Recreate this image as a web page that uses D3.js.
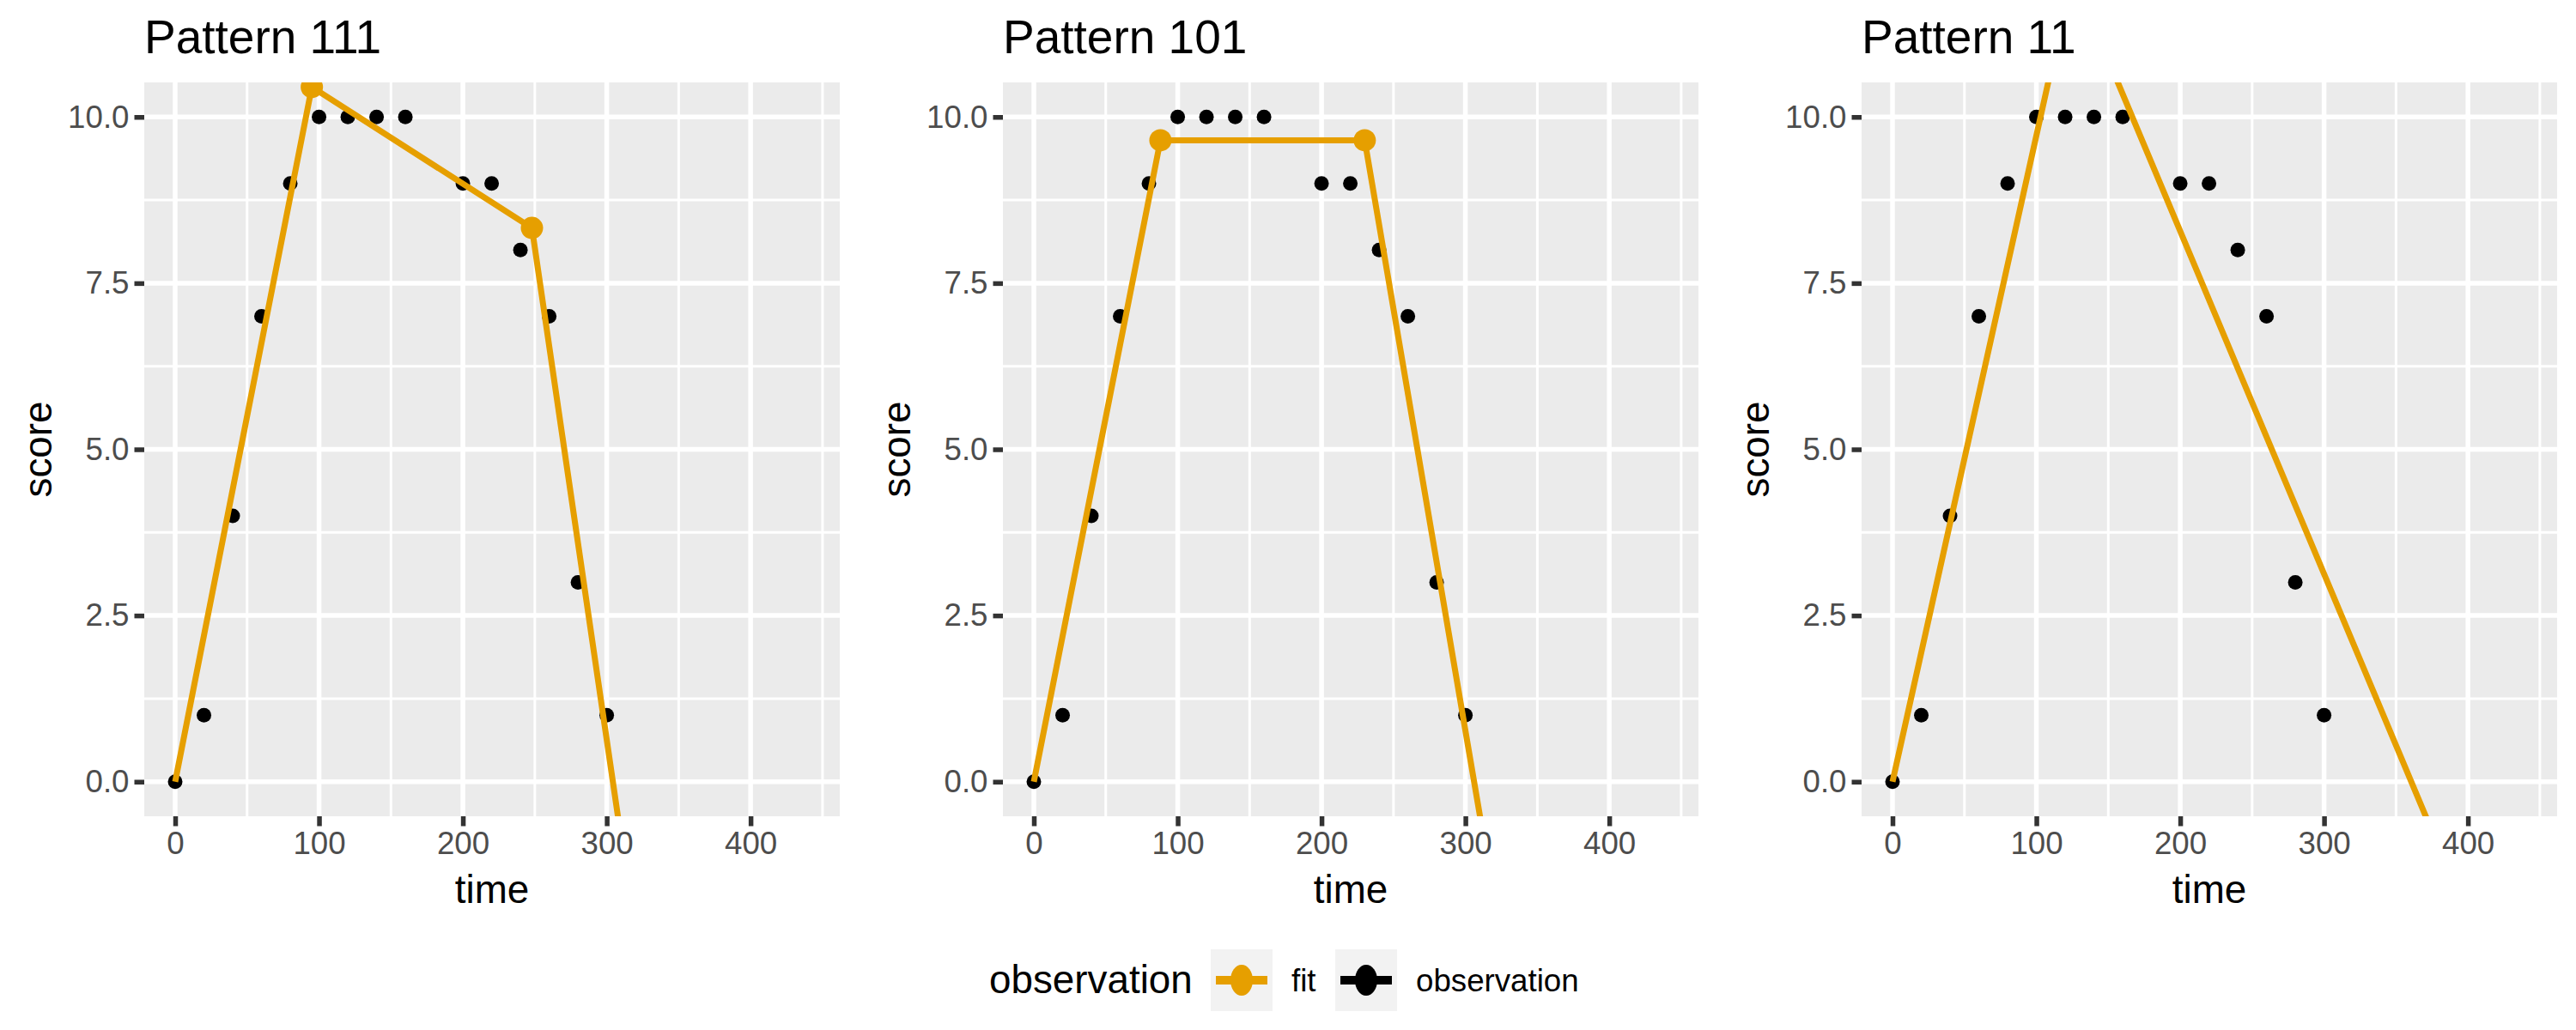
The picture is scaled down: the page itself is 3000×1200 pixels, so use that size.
<!DOCTYPE html>
<html>
<head>
<meta charset="utf-8">
<script src="https://cdn.jsdelivr.net/npm/d3@7"></script>
<style>
  body { margin: 0; background: #fff; }
  text { font-family: "Liberation Sans", Arial, sans-serif; }
</style>
</head>
<body>
<svg id="chart" width="3000" height="1200"></svg>
<script>
// observations (same in every panel)
const times = [0, 20, 40, 60, 80, 100, 120, 140, 160, 200, 220, 240, 260, 280, 300];
const scores = [0, 1, 4, 7, 9, 10, 10, 10, 10, 9, 9, 8, 7, 3, 1];

// fitted piecewise lines, one per panel
const titles = ['Pattern 111', 'Pattern 101', 'Pattern 11'];
const fitTimes = [[0, 95, 248, 320], [0, 88, 230, 320], [0, 125, 380]];
const fitScores = [[0, 10.45, 8.33, -2.33], [0, 9.65, 9.65, -1.77], [0, 12.15, -1.0]];
const fitMarkers = [[95, 248], [88, 230], []]; // breakpoints drawn as points

const xTicks = [0, 100, 200, 300, 400];
const yTicks = [0, 2.5, 5, 7.5, 10];
const legendLabels = ['fit', 'observation'];

const fitColor = '#E69F00';
const svg = d3.select('#chart');
const panelW = 810, panelTop = 96, panelBottom = 951;

titles.forEach((title, p) => {
  const left = 168 + p * 1000;
  const x = d3.scaleLinear().domain([-21.5, 462]).range([left, left + panelW]);
  const y = d3.scaleLinear().domain([-0.52, 10.52]).range([panelBottom, panelTop]);
  const g = svg.append('g');

  g.append('rect').attr('x', left).attr('y', panelTop)
    .attr('width', panelW).attr('height', panelBottom - panelTop).attr('fill', '#EBEBEB');

  const clipId = 'clip' + p;
  g.append('clipPath').attr('id', clipId).append('rect')
    .attr('x', left).attr('y', panelTop).attr('width', panelW).attr('height', panelBottom - panelTop);

  // minor grid
  [50, 150, 250, 350, 450].forEach(v => g.append('line')
    .attr('x1', x(v)).attr('x2', x(v)).attr('y1', panelTop).attr('y2', panelBottom)
    .attr('stroke', '#fff').attr('stroke-width', 3));
  [1.25, 3.75, 6.25, 8.75].forEach(v => g.append('line')
    .attr('x1', left).attr('x2', left + panelW).attr('y1', y(v)).attr('y2', y(v))
    .attr('stroke', '#fff').attr('stroke-width', 3));
  // major grid
  xTicks.forEach(v => g.append('line')
    .attr('x1', x(v)).attr('x2', x(v)).attr('y1', panelTop).attr('y2', panelBottom)
    .attr('stroke', '#fff').attr('stroke-width', 5.5));
  yTicks.forEach(v => g.append('line')
    .attr('x1', left).attr('x2', left + panelW).attr('y1', y(v)).attr('y2', y(v))
    .attr('stroke', '#fff').attr('stroke-width', 5.5));

  // axes
  const xAxis = g.append('g').attr('transform', `translate(0,${panelBottom})`)
    .call(d3.axisBottom(x).tickValues(xTicks).tickSize(11.5).tickPadding(6).tickFormat(d3.format('d')));
  const yAxis = g.append('g').attr('transform', `translate(${left},0)`)
    .call(d3.axisLeft(y).tickValues(yTicks).tickSize(11.5).tickPadding(6).tickFormat(d3.format('.1f')));
  [xAxis, yAxis].forEach(a => {
    a.select('.domain').remove();
    a.selectAll('.tick line').attr('stroke', '#333').attr('stroke-width', 5.5);
    a.selectAll('.tick text').attr('fill', '#4D4D4D').style('font-size', '36.7px')
      .style('font-family', '"Liberation Sans", Arial, sans-serif');
  });

  // titles
  g.append('text').attr('x', left).attr('y', 62).text(title)
    .style('font-size', '55px').attr('fill', '#000');
  g.append('text').attr('x', left + panelW / 2).attr('y', 1052).attr('text-anchor', 'middle')
    .text('time').style('font-size', '45.8px');
  g.append('text').attr('transform', `translate(55,${(panelTop + panelBottom) / 2}) rotate(-90)`)
    .attr('x', 0).attr('y', 0).attr('transform', `translate(${left - 108},${(panelTop + panelBottom) / 2}) rotate(-90)`)
    .attr('text-anchor', 'middle').text('score').style('font-size', '45.8px');

  const plot = g.append('g').attr('clip-path', `url(#${clipId})`);

  // observations
  plot.selectAll('circle.obs').data(times).enter().append('circle')
    .attr('class', 'obs')
    .attr('cx', d => x(d)).attr('cy', (d, i) => y(scores[i])).attr('r', 8.5).attr('fill', '#000');

  // fit line
  const line = d3.line().x(d => x(d[0])).y(d => y(d[1]));
  plot.append('path').datum(fitTimes[p].map((t, i) => [t, fitScores[p][i]]))
    .attr('d', line).attr('fill', 'none').attr('stroke', fitColor).attr('stroke-width', 7);

  plot.selectAll('circle.fit').data(fitMarkers[p]).enter().append('circle')
    .attr('class', 'fit')
    .attr('cx', d => x(d))
    .attr('cy', d => {
      const i = fitTimes[p].indexOf(d);
      return y(fitScores[p][i]);
    })
    .attr('r', 13).attr('fill', fitColor);
});

// legend
const legend = svg.append('g');
legend.append('text').attr('x', 1152).attr('y', 1157).text('observation').style('font-size', '45.8px');
const keyX = [1410, 1555];
const keyColors = [fitColor, '#000'];
legendLabels.forEach((lab, i) => {
  const kx = keyX[i];
  legend.append('rect').attr('x', kx).attr('y', 1106).attr('width', 72).attr('height', 72).attr('fill', '#F2F2F2');
  legend.append('line').attr('x1', kx + 6).attr('x2', kx + 66).attr('y1', 1142).attr('y2', 1142)
    .attr('stroke', keyColors[i]).attr('stroke-width', 10);
  legend.append('ellipse').attr('cx', kx + 36).attr('cy', 1142).attr('rx', 13).attr('ry', 18)
    .attr('fill', keyColors[i]);
  legend.append('text').attr('x', kx + 94).attr('y', 1155).text(lab).style('font-size', '36.7px');
});
</script>
</body>
</html>
